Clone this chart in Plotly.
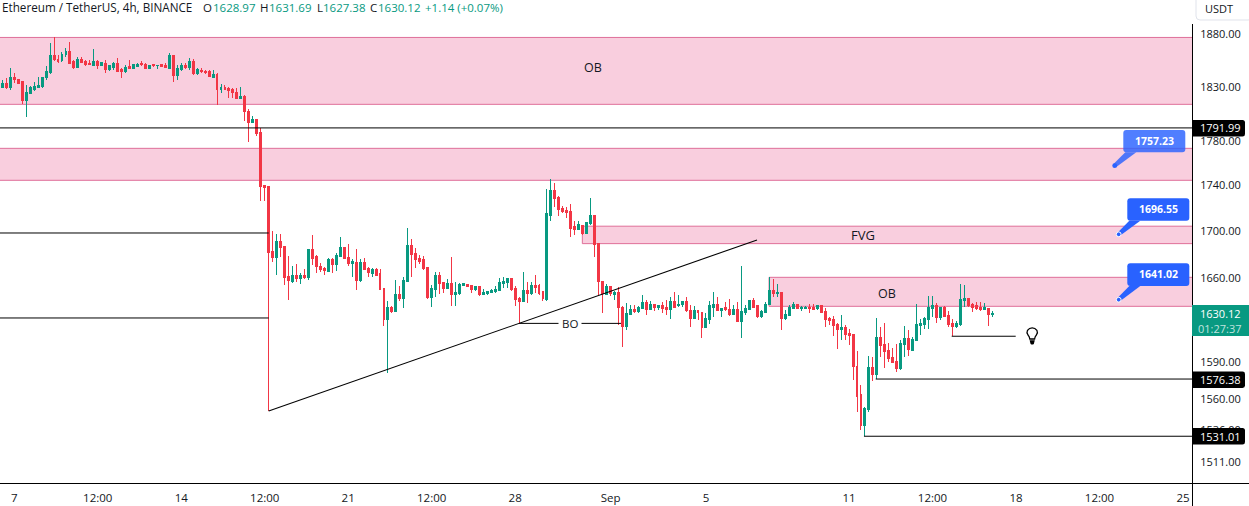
import numpy as np
import pandas as pd
import plotly.graph_objects as go

# ---- candles (4h bars) ----
opens = [
    1828.3,1831.7,1828.6,1838.0,1836.1,1833.6,1816.7,1822.9,1826.7,1828.3,
    1828.9,1837.4,1842.4,1858.2,1855.0,1853.8,1859.1,1861.9,1853.1,1846.8,
    1854.4,1852.8,1850.6,1849.4,1853.1,1849.0,1851.2,1845.3,1847.5,1850.6,
    1845.6,1843.4,1848.1,1846.2,1848.1,1850.6,1850.3,1846.2,1849.7,1848.7,
    1849.7,1849.0,1846.2,1858.2,1839.3,1845.6,1849.0,1846.8,1852.5,1841.2,
    1844.6,1843.4,1843.1,1838.0,1840.2,1826.1,1828.0,1827.3,1826.1,1824.2,
    1818.5,1820.4,1806.6,1796.2,1798.4,1786.5,1739.1,1738.2,1681.3,1676.1,
    1689.8,1685.8,1660.2,1656.2,1660.7,1658.2,1660.7,1659.0,1683.0,1677.2,
    1668.9,1667.2,1664.7,1674.4,1670.1,1676.9,1685.2,1676.6,1670.9,1672.3,
    1656.6,1671.8,1666.7,1663.0,1665.8,1662.4,1649.8,1623.9,1634.6,1630.5,
    1644.7,1641.3,1656.0,1686.4,1679.5,1675.2,1674.4,1667.5,1642.2,1648.9,
    1660.7,1655.2,1649.8,1654.0,1644.7,1645.5,1652.3,1653.8,1652.3,1648.9,
    1651.5,1644.7,1645.5,1646.4,1647.2,1648.1,1654.0,1654.9,1658.2,1650.0,
    1641.3,1638.8,1648.1,1645.5,1652.3,1652.3,1647.2,1640.5,1713.2,1734.4,
    1729.0,1718.5,1716.8,1715.9,1702.8,1700.2,1704.3,1697.3,1705.4,1713.2,
    1688.1,1656.2,1644.7,1651.5,1644.7,1646.4,1634.6,1618.0,1628.0,1632.2,
    1630.5,1633.0,1638.0,1632.2,1636.3,1633.8,1635.5,1633.8,1632.2,1638.8,
    1635.5,1636.3,1638.8,1631.3,1624.7,1631.3,1630.2,1617.2,1623.9,1634.6,
    1636.3,1631.3,1633.8,1632.5,1628.0,1632.2,1622.2,1629.7,1632.2,1639.7,
    1635.5,1626.3,1629.7,1636.3,1648.1,1645.5,1646.4,1624.7,1627.2,1633.0,
    1636.3,1633.0,1633.0,1634.6,1634.6,1633.0,1635.5,1630.5,1624.7,1623.9,
    1619.7,1615.6,1617.2,1612.3,1611.5,1586.1,1562.8,1538.3,1550.9,1584.5,
    1578.9,1609.0,1603.3,1598.4,1592.6,1589.4,1583.7,1603.3,1608.2,1598.4,
    1606.6,1618.9,1619.7,1623.9,1633.0,1635.5,1625.5,1633.9,1627.2,1620.6,
    1618.0,1619.7,1639.7,1641.3,1636.3,1635.5,1633.9,1632.5,1633.6,1628.97,
]
highs = [
    1835.5,1837.1,1846.5,1841.8,1836.8,1834.0,1830.8,1829.9,1834.0,1838.0,
    1838.4,1848.7,1870.1,1875.8,1859.1,1862.3,1865.4,1871.4,1854.4,1857.5,
    1857.5,1854.4,1854.4,1864.5,1853.8,1852.2,1853.8,1849.7,1852.8,1856.0,
    1846.5,1849.7,1853.8,1850.6,1851.2,1853.4,1851.9,1849.7,1850.3,1849.7,
    1850.6,1851.9,1861.3,1859.1,1849.7,1851.9,1851.9,1856.0,1855.6,1846.5,
    1846.5,1845.0,1845.0,1845.0,1841.8,1831.7,1830.8,1828.6,1827.7,1827.7,
    1828.6,1821.4,1808.8,1802.2,1798.7,1791.2,1739.7,1738.8,1699.3,1696.7,
    1696.7,1686.4,1677.8,1669.2,1670.9,1663.0,1666.4,1684.1,1695.9,1678.4,
    1671.5,1668.7,1675.8,1675.8,1680.1,1694.1,1685.8,1688.1,1675.0,1683.8,
    1675.0,1675.8,1668.7,1667.2,1667.2,1666.7,1650.6,1639.7,1635.5,1657.4,
    1651.8,1659.6,1701.9,1692.1,1684.4,1678.7,1677.8,1668.1,1653.2,1664.4,
    1664.4,1656.0,1658.5,1676.9,1655.2,1654.6,1654.9,1654.0,1653.2,1652.3,
    1651.8,1649.8,1648.4,1649.8,1651.8,1659.0,1659.6,1658.4,1658.4,1651.8,
    1643.3,1664.1,1656.0,1656.0,1661.3,1653.7,1648.0,1735.8,1745.0,1741.5,
    1729.9,1721.1,1720.5,1722.5,1708.3,1708.0,1704.5,1707.4,1728.2,1713.5,
    1688.7,1656.5,1654.0,1651.8,1648.4,1651.2,1635.5,1637.7,1636.3,1636.3,
    1635.5,1644.4,1640.5,1639.7,1637.1,1636.3,1639.1,1640.5,1643.3,1647.5,
    1644.4,1640.0,1643.3,1636.3,1635.5,1632.2,1630.8,1629.4,1640.0,1647.2,
    1643.3,1634.0,1639.1,1641.3,1636.3,1639.1,1669.2,1636.3,1640.0,1642.2,
    1636.3,1632.2,1639.1,1659.6,1658.2,1654.0,1647.2,1632.2,1636.3,1638.8,
    1636.6,1635.5,1635.5,1637.1,1637.1,1636.3,1636.3,1633.6,1626.6,1627.2,
    1621.1,1628.0,1619.4,1616.1,1612.3,1598.4,1570.9,1553.6,1594.3,1593.2,
    1625.5,1618.3,1621.6,1605.2,1600.9,1604.2,1607.4,1618.9,1615.6,1609.8,
    1637.1,1625.0,1626.6,1643.8,1643.8,1637.7,1634.9,1635.5,1631.6,1624.5,
    1623.1,1653.9,1653.1,1642.1,1638.2,1638.8,1639.1,1638.2,1633.9,1631.69,
]
lows = [
    1827.7,1826.7,1826.1,1832.4,1831.7,1812.9,1801.0,1822.3,1825.5,1828.0,
    1828.3,1835.5,1841.2,1853.5,1851.9,1852.8,1857.5,1850.6,1846.2,1846.5,
    1851.2,1848.7,1849.4,1848.7,1846.2,1848.7,1842.4,1844.3,1845.0,1843.4,
    1837.4,1842.4,1845.6,1845.9,1847.2,1849.0,1845.9,1845.6,1848.1,1845.6,
    1847.5,1846.8,1845.6,1834.0,1835.5,1844.3,1845.6,1845.0,1839.9,1840.2,
    1842.4,1840.9,1838.0,1837.4,1812.6,1823.6,1826.1,1818.9,1818.9,1817.3,
    1817.3,1797.1,1778.3,1795.9,1783.6,1725.7,1725.8,1550.0,1672.9,1661.6,
    1676.6,1653.2,1640.5,1654.6,1655.2,1653.7,1657.9,1657.4,1670.1,1663.0,
    1664.4,1661.6,1663.8,1663.0,1665.0,1676.6,1674.9,1669.5,1659.6,1648.9,
    1656.0,1665.5,1659.6,1660.2,1660.7,1648.5,1618.9,1580.2,1629.4,1630.2,
    1639.7,1633.8,1655.7,1660.2,1667.2,1670.9,1665.8,1641.6,1634.9,1642.7,
    1645.5,1646.7,1649.5,1635.8,1635.5,1644.7,1651.8,1651.2,1646.7,1647.6,
    1643.9,1644.4,1645.0,1646.1,1646.7,1647.8,1650.3,1650.6,1648.1,1635.5,
    1621.7,1638.5,1637.7,1644.7,1646.1,1644.7,1639.9,1639.9,1708.3,1719.9,
    1712.4,1715.3,1710.3,1694.4,1695.9,1699.9,1695.6,1697.0,1704.5,1676.6,
    1644.7,1630.0,1644.4,1643.9,1640.5,1619.5,1601.9,1615.5,1627.7,1629.4,
    1629.4,1632.7,1628.0,1631.9,1631.0,1632.2,1630.0,1628.0,1624.7,1633.5,
    1634.3,1634.3,1630.8,1618.0,1624.4,1623.9,1608.9,1616.9,1620.5,1626.6,
    1631.0,1626.3,1631.3,1627.2,1627.7,1621.9,1609.2,1628.0,1631.9,1634.3,
    1625.5,1625.5,1629.4,1636.0,1643.3,1643.3,1615.5,1623.9,1626.9,1632.7,
    1632.7,1631.3,1632.7,1629.7,1632.2,1632.2,1629.4,1618.3,1619.7,1610.7,
    1600.3,1607.4,1607.4,1603.3,1574.9,1549.6,1535.2,1530.4,1549.6,1574.4,
    1575.4,1593.7,1584.5,1589.4,1588.3,1581.3,1582.9,1593.7,1594.3,1598.1,
    1606.3,1611.5,1616.6,1616.6,1626.6,1621.6,1623.9,1626.0,1618.3,1610.7,
    1617.2,1618.9,1634.9,1634.9,1630.5,1632.2,1631.6,1632.2,1618.9,1627.38,
]
closes = [
    1831.7,1828.6,1838.0,1835.5,1832.4,1816.7,1823.9,1828.0,1828.9,1829.9,
    1838.0,1843.1,1858.2,1854.4,1853.1,1859.7,1861.9,1851.2,1846.8,1854.4,
    1851.9,1849.7,1849.7,1853.1,1848.7,1851.6,1845.0,1848.7,1850.6,1843.7,
    1843.1,1847.5,1846.2,1849.7,1850.0,1849.7,1846.2,1849.4,1849.0,1849.4,
    1848.1,1847.2,1858.2,1839.3,1845.9,1848.7,1846.8,1852.5,1841.2,1845.3,
    1843.1,1842.1,1838.4,1840.6,1826.1,1828.0,1827.0,1825.5,1823.6,1818.2,
    1820.4,1806.6,1796.2,1798.7,1785.8,1738.1,1737.6,1680.7,1676.1,1689.8,
    1684.7,1659.0,1656.5,1660.7,1658.2,1660.7,1659.3,1683.3,1675.8,1668.4,
    1666.1,1665.2,1674.7,1670.1,1677.8,1684.7,1675.8,1670.9,1673.0,1656.6,
    1672.0,1665.8,1663.3,1666.1,1661.3,1648.9,1623.9,1634.6,1630.5,1644.7,
    1641.3,1656.5,1686.4,1678.7,1674.4,1673.2,1666.7,1642.2,1649.8,1660.7,
    1654.0,1649.8,1654.0,1644.7,1646.4,1653.2,1654.0,1651.5,1648.9,1651.5,
    1644.7,1646.4,1647.2,1648.1,1648.9,1654.9,1655.7,1658.2,1648.9,1640.5,
    1638.8,1648.1,1645.5,1652.3,1651.2,1645.5,1641.3,1714.1,1734.4,1728.1,
    1717.6,1715.9,1715.0,1701.7,1700.2,1704.5,1697.3,1706.3,1713.2,1687.2,
    1655.7,1645.5,1651.8,1645.5,1646.4,1633.8,1618.0,1628.8,1632.2,1630.5,
    1633.8,1638.0,1632.2,1636.3,1634.6,1635.5,1633.0,1632.2,1638.8,1634.6,
    1637.1,1638.8,1631.3,1624.7,1631.3,1629.7,1617.2,1624.7,1635.5,1636.3,
    1631.3,1633.5,1632.2,1628.0,1632.2,1622.2,1630.5,1633.0,1639.7,1634.6,
    1626.3,1630.5,1637.1,1648.1,1645.5,1646.4,1624.7,1628.0,1633.8,1636.3,
    1633.0,1633.8,1634.6,1633.0,1632.7,1635.5,1630.0,1624.5,1623.1,1618.9,
    1615.6,1617.2,1611.8,1610.7,1585.3,1561.5,1538.3,1551.7,1584.5,1578.9,
    1609.0,1602.5,1597.6,1591.8,1588.6,1583.7,1604.2,1608.2,1599.2,1607.4,
    1619.7,1620.6,1624.7,1633.9,1635.5,1625.5,1633.9,1626.3,1619.7,1618.0,
    1620.6,1640.5,1641.3,1635.5,1634.6,1633.0,1632.2,1633.9,1628.0,1630.12,
]
times = pd.date_range("2023-08-06 12:00", periods=len(opens), freq="4h")


# the bars above were read with the price scale one pixel too low; the last bar is the header's OHLC
def recal(vals):
    return [round(v * 1.00051, 2) for v in vals[:-1]] + vals[-1:]


# axis labels
x_tick_times = ["2023-08-07", "2023-08-10 12:00", "2023-08-14", "2023-08-17 12:00",
                "2023-08-21", "2023-08-24 12:00", "2023-08-28", "2023-09-01",
                "2023-09-05", "2023-09-11", "2023-09-14 12:00", "2023-09-18",
                "2023-09-21 12:00", "2023-09-25"]
x_tick_labels = ["7", "12:00", "14", "12:00", "21", "12:00", "28", "Sep", "5",
                 "11", "12:00", "18", "12:00", "25"]
y_ticks = [1880, 1830, 1780, 1740, 1700, 1660, 1590, 1560, 1536, 1511]

# drawings on the chart
X_START = "2023-08-06 09:37"
X_END = "2023-09-25 09:06"
LEFT_OFF = "2023-08-05"
RIGHT_OFF = "2023-09-28"
zone_starts = [LEFT_OFF, LEFT_OFF, "2023-08-30 19:36", "2023-09-07 15:30"]
zone_tops = [1876.7, 1773.4, 1704.3, 1660.4]
zone_bottoms = [1813.7, 1744.7, 1689.2, 1636.0]

level_starts = [X_START, X_START, X_START, "2023-08-28 04:00",
                "2023-09-15 07:18", "2023-09-12 02:48", "2023-09-11 15:00"]
level_ends = [X_END, "2023-08-17 16:00", "2023-08-17 16:00", "2023-09-01 10:30",
              "2023-09-17 23:42", X_END, X_END]
level_prices = [1791.99, 1698.4, 1626.3, 1621.8, 1611.2, 1576.38, 1531.01]

trend_times = ["2023-08-17 16:00", "2023-09-07 03:24"]
trend_prices = [1550.8, 1692.4]

GREEN = "#089981"
RED = "#F23645"
INK = "#131722"
FONT = "Open Sans"
W, H = 1249, 506
PLOT_R, PLOT_T, PLOT_B = 1192, 24, 483


def px(x):
    return x / PLOT_R


def py(y):
    return 1 - (y - PLOT_T) / (PLOT_B - PLOT_T)


def path(cmds):
    # cmds are ("M", x, y) / ("L", x, y) / ("Q", cx, cy, x, y) / ("Z",) in screen pixels
    out = []
    for c in cmds:
        vals = []
        for i, v in enumerate(c[1:]):
            vals.append(f"{px(v) if i % 2 == 0 else py(v):.6f}")
        out.append(c[0] + " " + ",".join(vals))
    return " ".join(out)


def box(x0, y0, x1, y1, r, left=True):
    rl = r if left else 0
    return [("M", x0 + rl, y0), ("L", x1 - r, y0), ("Q", x1, y0, x1, y0 + r),
            ("L", x1, y1 - r), ("Q", x1, y1, x1 - r, y1), ("L", x0 + rl, y1),
            ("Q", x0, y1, x0, y1 - rl), ("L", x0, y0 + rl), ("Q", x0, y0, x0 + rl, y0), ("Z",)]


def text(fig, x, y, s, size=11.5, color=INK, anchor="center"):
    fig.add_annotation(x=px(x), y=py(y), xref="paper", yref="paper", text=s, showarrow=False,
                       xanchor=anchor, yanchor="middle", borderpad=0,
                       font=dict(family=FONT, size=size, color=color))


fig = go.Figure()
fig.add_trace(go.Candlestick(
    x=times, open=recal(opens), high=recal(highs), low=recal(lows), close=recal(closes),
    increasing=dict(line=dict(color=GREEN, width=1), fillcolor=GREEN),
    decreasing=dict(line=dict(color=RED, width=1), fillcolor=RED),
    hoverinfo="skip", showlegend=False,
))

fig.update_layout(
    width=W, height=H, paper_bgcolor="white", plot_bgcolor="white",
    margin=dict(l=0, r=W - PLOT_R, t=PLOT_T, b=H - PLOT_B, pad=0),
    boxgap=0.3, showlegend=False,
    font=dict(family=FONT, size=12, color=INK),
)
fig.update_xaxes(
    range=[X_START, X_END], rangeslider_visible=False, showgrid=False, zeroline=False,
    tickmode="array", tickvals=x_tick_times, ticktext=x_tick_labels, tickangle=0,
    ticks="outside", ticklen=4, tickcolor="rgba(0,0,0,0)",
    tickfont=dict(family=FONT, size=11.5, color=INK),
)
fig.update_yaxes(
    type="log", side="right", range=list(np.log10([1494.9, 1889.62])),
    showgrid=False, zeroline=False, tickmode="array", tickvals=y_ticks,
    ticktext=[f"{v:.2f}" for v in y_ticks], ticks="outside", ticklen=5,
    tickcolor="rgba(0,0,0,0)", tickfont=dict(family=FONT, size=11, color=INK),
)

# zones
for start, top, bottom in zip(zone_starts, zone_tops, zone_bottoms):
    fig.add_shape(type="rect", layer="below", x0=start, x1=RIGHT_OFF, y0=bottom, y1=top,
                  fillcolor="#F9CEDE", line=dict(color="#DF6F99", width=1))

# levels and trend line
for start, end, price in zip(level_starts, level_ends, level_prices):
    fig.add_shape(type="line", x0=start, x1=end, y0=price, y1=price,
                  line=dict(color="black", width=1))
fig.add_shape(type="line", x0=trend_times[0], x1=trend_times[1], y0=trend_prices[0],
              y1=trend_prices[1], line=dict(color="black", width=1.1))

# frame
fig.add_shape(type="line", xref="paper", yref="paper", x0=px(1192.5), x1=px(1192.5), y0=py(24), y1=py(506),
              line=dict(color="black", width=1))
fig.add_shape(type="line", xref="paper", yref="paper", x0=0, x1=px(W), y0=py(483.5), y1=py(483.5),
              line=dict(color="black", width=1))

# USDT button
fig.add_shape(type="path", xref="paper", yref="paper", path=path(box(1196, -4, 1252, 20, 4)),
              fillcolor="white", line=dict(color="#E0E3EB", width=1))
text(fig, 1219, 9, "USDT", size=11)

# price labels on the axis
label_tops = [120, 371.5, 428]
label_texts = ["1791.99", "1576.38", "1531.01"]
for top, s in zip(label_tops, label_texts):
    fig.add_shape(type="path", xref="paper", yref="paper",
                  path=path(box(1192, top, 1245, top + 16.5, 2.5, left=False)),
                  fillcolor="black", line=dict(width=0))
    text(fig, 1220, top + 8, s, size=11, color="white")
fig.add_shape(type="rect", xref="paper", yref="paper", x0=px(1192), x1=px(W), y0=py(336), y1=py(305),
              fillcolor=GREEN, line=dict(width=0))
text(fig, 1220, 313, "1630.12", size=11, color="white")
text(fig, 1220, 328, "01:27:37", size=11, color="rgba(255,255,255,0.75)")

# blue callouts: box, pointer and dot
callout_boxes = [(1123.3, 130, 1185.3, 152.3), (1127.3, 198.3, 1189.3, 220.7), (1127.3, 263.3, 1189.3, 286)]
callout_tips = [(1114.7, 165.7), (1118.7, 234.3), (1118.7, 299.7)]
callout_texts = ["1757.23", "1696.55", "1641.02"]
callout_alpha = [0.82, 1, 1]
callout_ring = [False, True, True]
for (x0, y0, x1, y1), (tx, ty), s, a, ring in zip(callout_boxes, callout_tips, callout_texts,
                                                  callout_alpha, callout_ring):
    fill = f"rgba(41,98,255,{a})"
    fig.add_shape(type="path", xref="paper", yref="paper", fillcolor=fill, line=dict(width=0),
                  path=path(box(x0, y0, x1, y1, 3)))
    fig.add_shape(type="path", xref="paper", yref="paper", fillcolor=fill, line=dict(width=0),
                  path=path([("M", x0 + 2, y1), ("L", tx - 1.2, ty - 1.6), ("L", tx + 1.6, ty + 1.2),
                             ("L", x0 + 13, y1), ("Z",)]))
    fig.add_shape(type="circle", xref="paper", yref="paper", x0=px(tx - 2.4), x1=px(tx + 2.4),
                  y0=py(ty + 2.4), y1=py(ty - 2.4), fillcolor="#2962FF",
                  line=dict(color="white" if ring else "#2962FF", width=1 if ring else 0))
    text(fig, (x0 + x1) / 2, y0 + 10.5, f"<b>{s}</b>", size=10.5, color="white")

# light bulb
fig.add_shape(type="path", xref="paper", yref="paper", fillcolor="white", line=dict(color="black", width=1.3),
              path=path([("M", 1029.8, 339), ("Q", 1029.5, 336.5, 1028, 335), ("Q", 1026.3, 332.5, 1027.5, 330.3),
                         ("Q", 1029.3, 327.8, 1032.2, 327.8), ("Q", 1035.1, 327.8, 1036.9, 330.3),
                         ("Q", 1038.1, 332.5, 1036.4, 335), ("Q", 1034.9, 336.5, 1034.6, 339), ("Z",)]))
fig.add_shape(type="path", xref="paper", yref="paper", fillcolor="black", line=dict(width=0),
              path=path([("M", 1029.6, 340.2), ("L", 1034.8, 340.2), ("L", 1033.8, 344),
                         ("Q", 1032.2, 345.2, 1030.6, 344), ("Z",)]))

# texts on the chart
text(fig, 592.5, 68, "OB", size=12.5)
text(fig, 862.5, 234.5, "FVG", size=13)
text(fig, 887, 293, "OB", size=12.5)
fig.add_annotation(x=px(569.5), y=py(323.5), xref="paper", yref="paper", text="BO", showarrow=False,
                   bgcolor="white", borderpad=3, font=dict(family=FONT, size=11.5, color=INK))

# header
text(fig, 1, 7, "Ethereum / TetherUS, 4h, BINANCE", size=11.7, anchor="left")
head_x = [202.3, 259.3, 316, 369.3]
head_keys = ["O", "H", "L", "C"]
head_vals_x = [211.7, 267.7, 321.7, 377.3]
head_vals = ["1628.97", "1631.69", "1627.38", "1630.12"]
for hx, k, vx, v in zip(head_x, head_keys, head_vals_x, head_vals):
    text(fig, hx, 7, k, size=11.5, anchor="left")
    text(fig, vx, 7, v, size=11.5, color=GREEN, anchor="left")
text(fig, 424.3, 7, "+1.14 (+0.07%)", size=11.5, color=GREEN, anchor="left")

# keep candle bodies on whole pixels, as in the reference
fig.write_html("out.html", config=dict(displayModeBar=False),
               post_script="document.body.style.margin='0';"
                           "document.querySelectorAll('.boxes path').forEach(function(p){"
                           "p.style.shapeRendering='crispEdges';});")
